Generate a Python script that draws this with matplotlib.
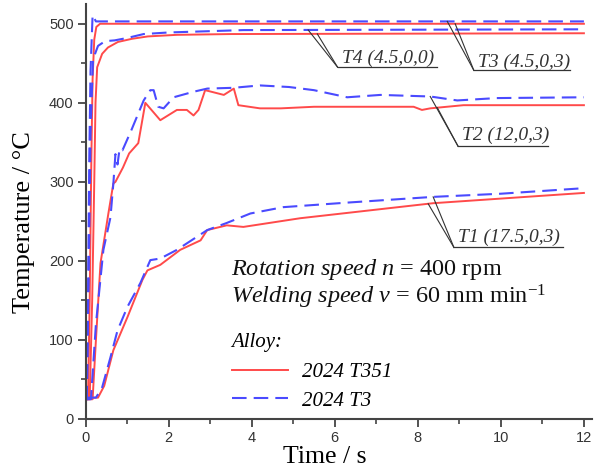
import numpy as np
import matplotlib
matplotlib.use("Agg")
import matplotlib.pyplot as plt
from matplotlib.lines import Line2D

# ---------------- data (time in s, temperature in degC) ----------------
t_T3_blue = [0, 0.03, 0.06, 0.09, 0.12, 0.17, 0.25, 0.4, 12]
T_T3_blue = [25, 25, 150, 330, 440, 511, 503, 503, 503]
t_T3_red = [0, 0.06, 0.1, 0.14, 0.17, 0.21, 0.26, 0.35, 12]
T_T3_red = [25, 25, 150, 330, 430, 480, 496, 500, 500]

t_T4_blue = [0, 0.03, 0.08, 0.12, 0.18, 0.3, 0.47, 0.7, 1.0, 1.4, 2.0, 3.8, 12]
T_T4_blue = [25, 25, 200, 361, 455, 472, 478, 479, 482, 487, 489, 492, 493]
t_T4_red = [0, 0.1, 0.16, 0.21, 0.24, 0.28, 0.4, 0.54, 0.78, 1.12, 1.5, 2.2, 3.5, 12]
T_T4_red = [25, 25, 150, 300, 400, 445, 462, 470, 477, 481, 484, 486, 487, 488]

t_T2_blue = [0, 0.13, 0.25, 0.43, 0.6, 0.67, 0.72, 0.77, 0.82, 0.89, 1.1, 1.4, 1.56,
             1.64, 1.75, 1.88, 2.12, 2.6, 2.93, 3.56, 4.2, 4.9, 5.5, 6.3, 7.1, 8.3,
             8.95, 9.9, 12]
T_T2_blue = [25, 25, 120, 214, 255, 298, 335, 322, 342, 340, 365, 403, 416,
             416, 395, 393, 407, 414, 418, 419, 422, 420, 416, 407, 410, 408,
             403, 406, 407]
t_T2_red = [0, 0.17, 0.25, 0.36, 0.55, 0.67, 0.72, 0.9, 1.05, 1.27, 1.44, 1.8, 2.2,
            2.44, 2.6, 2.72, 2.88, 3.33, 3.57, 3.68, 4.2, 4.7, 5.5, 7.9, 8.1, 8.3,
            9.1, 12]
T_T2_red = [25, 25, 100, 197, 260, 298, 300, 318, 336, 349, 400, 378, 391,
            391, 384, 391, 416, 410, 418, 397, 393, 393, 395, 395, 391, 393,
            397, 397]

t_T1_blue = [0, 0.25, 0.4, 0.6, 0.77, 1.01, 1.32, 1.56, 1.8, 2.2, 2.93, 3.4, 3.97,
             4.76, 6.37, 8.37, 10, 12]
T_T1_blue = [27, 27, 40, 78, 112, 142, 172, 201, 203, 214, 239, 248, 260,
             268, 274, 281, 285, 292]
t_T1_red = [0, 0.3, 0.45, 0.67, 1.01, 1.37, 1.49, 1.8, 2.28, 2.77, 2.93, 3.4, 3.8,
            5.17, 8.37, 12]
T_T1_red = [27, 27, 42, 87, 129, 176, 188, 195, 214, 226, 239, 245, 243,
            254, 273, 286]

probe_labels = ["T1 (17.5,0,3)", "T2 (12,0,3)", "T3 (4.5,0,3)", "T4 (4.5,0,0)"]
alloy_labels = ["2024 T351", "2024 T3"]

x_ticks = [0, 2, 4, 6, 8, 10, 12]
y_ticks = [0, 100, 200, 300, 400, 500]

RED = "#ff4a4a"
BLUE = "#4a4aff"

plt.rcParams["mathtext.fontset"] = "custom"
plt.rcParams["mathtext.rm"] = "Liberation Serif"
plt.rcParams["mathtext.it"] = "Liberation Serif:italic"

fig = plt.figure(figsize=(5.94, 4.72), dpi=100)
ax = fig.add_axes([0.144, 0.1123, 0.853, 0.8792])

red_series = [(t_T1_red, T_T1_red), (t_T2_red, T_T2_red),
              (t_T3_red, T_T3_red), (t_T4_red, T_T4_red)]
blue_series = [(t_T1_blue, T_T1_blue), (t_T2_blue, T_T2_blue),
               (t_T3_blue, T_T3_blue), (t_T4_blue, T_T4_blue)]

for t, T in red_series:
    ax.plot(t, T, color=RED, lw=1.4, solid_joinstyle="round")
for t, T in blue_series:
    ax.plot(t, T, color=BLUE, lw=1.5, dashes=(7, 3.4))

ax.set_xlim(0, 12.2)
ax.set_ylim(0, 525)
ax.set_xticks(x_ticks)
ax.set_yticks(y_ticks)
ax.set_xticks(np.arange(1, 12, 2), minor=True)
ax.set_yticks(np.arange(50, 501, 100), minor=True)

for s in ["top", "right"]:
    ax.spines[s].set_visible(False)
for s in ["left", "bottom"]:
    ax.spines[s].set_color("#444444")
    ax.spines[s].set_linewidth(1.5)

tick_font = ["Liberation Sans Narrow", "Liberation Sans", "DejaVu Sans"]
ax.tick_params(which="major", direction="out", length=6, width=1.3, color="#444444",
               labelsize=10.5, labelcolor="#333333", pad=2.5)
ax.tick_params(which="minor", direction="out", length=3.5, width=1.2, color="#444444")
for lab in ax.get_xticklabels() + ax.get_yticklabels():
    lab.set_family(tick_font)

ax.set_xlabel("Time / s", family="Liberation Serif", fontsize=18.5)
ax.set_ylabel("Temperature / °C", family="Liberation Serif", fontsize=19)
ax.xaxis.set_label_coords(0.472, -0.066)
ax.yaxis.set_label_coords(-0.1, 0.475)

# ---------------- probe annotations ----------------
ann_style = dict(family="Liberation Serif", style="italic", fontsize=14, color="#333333")
# (text x, text baseline y, underline y, underline end x, blue target t, red target t)
ann_pos = [
    (8.97, 224, 217, 11.5, 8.37, 8.25),
    (9.07, 353, 345, 11.14, 8.3, 8.47),
    (9.45, 446, 441, 11.66, 8.71, 8.9),
    (6.17, 450, 445, 8.47, 5.36, 5.58),
]
for lab, (xt, yt, yu, xe, tb, tr), (tbl, Tbl), (trd, Trd) in zip(
        probe_labels, ann_pos, blue_series, red_series):
    ax.text(xt, yt, lab, va="baseline", ha="left", **ann_style)
    xs = xt - 0.1
    ax.plot([xs, xe], [yu, yu], color="#333333", lw=0.9)
    ax.plot([xs, tb], [yu, np.interp(tb, tbl, Tbl)], color="#333333", lw=0.8)
    ax.plot([xs, tr], [yu, np.interp(tr, trd, Trd)], color="#333333", lw=0.8)

# ---------------- process parameters ----------------
ax.text(3.5, 146,
        r"$\mathit{Rotation\ speed\ n}$ = 400 rpm" + "\n"
        + r"$\mathit{Welding\ speed\ v}$ = 60 mm min$^{\mathrm{-1}}$",
        family="Liberation Serif", fontsize=17.5, va="baseline", ha="left",
        color="#111111", linespacing=1.05)

handles = [Line2D([], [], color=RED, lw=1.4),
           Line2D([], [], color=BLUE, lw=1.5, dashes=(7, 3.4))]
leg = ax.legend(handles, alloy_labels, title="Alloy:", loc="upper left",
                bbox_to_anchor=(217 / 594, 1 - 318 / 472), bbox_transform=fig.transFigure,
                frameon=False, prop=dict(family="Liberation Serif", style="italic", size=15),
                title_fontproperties=dict(family="Liberation Serif", style="italic", size=15),
                handlelength=2.7, handletextpad=0.7, labelspacing=0.42,
                alignment="left", borderpad=0.2)
# a little extra gap between the legend title and its entries
leg._legend_box.sep = 8

fig.savefig("out.png", dpi=100)
